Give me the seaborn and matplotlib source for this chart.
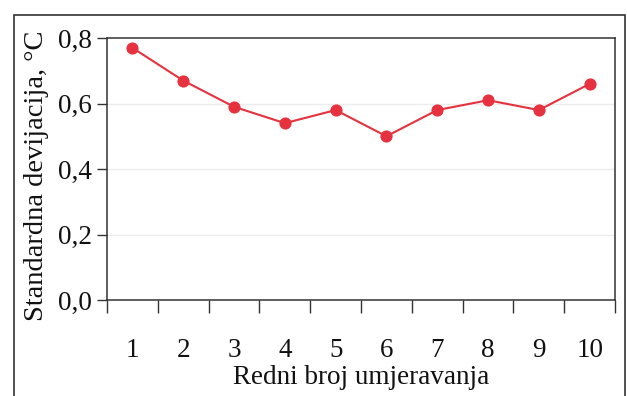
import matplotlib
matplotlib.use("Agg")
import matplotlib.pyplot as plt
import matplotlib.patches as mpatches
import seaborn as sns
import pandas as pd

# Standard deviation per calibration run
runs = [1, 2, 3, 4, 5, 6, 7, 8, 9, 10]
std_dev = [0.77, 0.67, 0.59, 0.54, 0.58, 0.50, 0.58, 0.61, 0.58, 0.66]
y_ticks = [0.0, 0.2, 0.4, 0.6, 0.8]
y_tick_labels = ["0,0", "0,2", "0,4", "0,6", "0,8"]
x_tick_labels = [str(r) for r in runs]

df = pd.DataFrame({"run": runs, "std": std_dev})

sns.set_theme(style="white")
plt.rcParams["font.family"] = ["Liberation Serif", "DejaVu Serif"]

fig = plt.figure(figsize=(6.27, 3.96), dpi=100)
ax = fig.add_axes([0.1707, 0.2424, 0.8103, 0.6616])

# outer chart frame
frame = mpatches.Rectangle((14 / 627, -0.05), (625 - 14) / 627, 1 - 15 / 396 + 0.05,
                           transform=fig.transFigure, fill=False,
                           edgecolor="#333333", linewidth=1.2, zorder=0)
fig.patches.append(frame)

red = "#e6323e"
sns.lineplot(data=df, x="run", y="std", ax=ax, color=red, linewidth=1.5,
             marker="o", markersize=8, markeredgecolor=red, markerfacecolor=red)

ax.set_xlim(0.5, 10.5)
ax.set_ylim(0, 0.8)

# faint horizontal gridlines
for v in y_ticks[1:-1]:
    ax.axhline(v, color="#ececec", linewidth=1.0, zorder=0)

fs = 19.5
ax.set_yticks(y_ticks)
ax.set_yticklabels(y_tick_labels, fontsize=fs, color="#111111")
ax.tick_params(axis="y", direction="out", length=7, width=1, color="#333333", pad=4, left=True)

# category labels centred, tick marks on category boundaries
ax.set_xticks(runs)
ax.set_xticklabels(x_tick_labels, fontsize=fs, color="#111111")
ax.tick_params(axis="x", which="major", length=0, pad=27)
ax.set_xticks([r + 0.5 for r in [0] + runs], minor=True)
ax.tick_params(axis="x", which="minor", direction="out", length=9, width=1,
               color="#333333", bottom=True)

ax.set_xlabel("Redni broj umjeravanja", fontsize=fs, color="#111111", labelpad=2)
ax.set_ylabel("Standardna devijacija, °C", fontsize=20.5, color="#111111", labelpad=6)
ax.yaxis.label.set_y(0.475)

for s in ax.spines.values():
    s.set_color("#333333")
    s.set_linewidth(1.1)
ax.set_facecolor("white")

fig.savefig("out.png", dpi=100)
